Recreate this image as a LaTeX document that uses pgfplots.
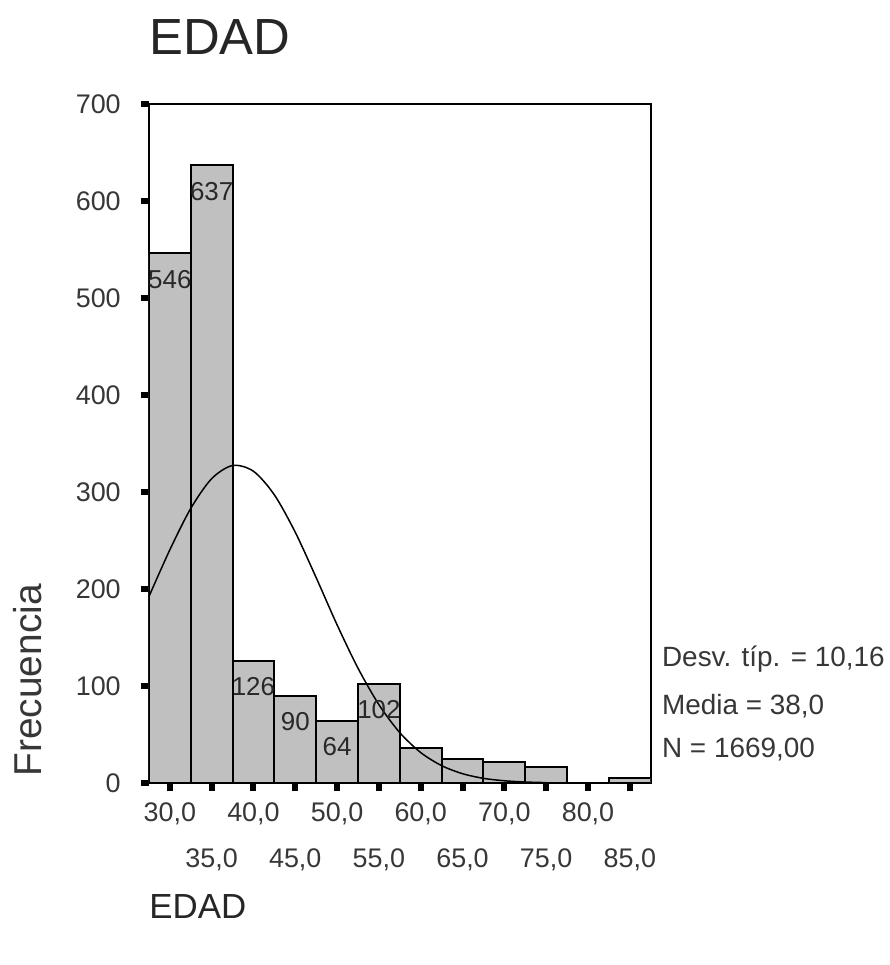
\documentclass[border=0pt]{standalone}
\usepackage{fontspec}
\setmainfont{Liberation Sans}
\usepackage{pgfplots}
\pgfplotsset{compat=1.18}
\definecolor{bargray}{RGB}{192,192,192}
\definecolor{txt}{RGB}{55,55,55}
\definecolor{lbl}{RGB}{40,40,40}
\begin{document}
\begin{tikzpicture}
\useasboundingbox (-148.9bp,-182bp) rectangle (741.1bp,783bp);
\begin{axis}[
  at={(0,0)}, anchor=south west,
  scale only axis, width=501.8bp, height=679bp,
  xmin=27.5, xmax=87.5, ymin=0, ymax=700,
  axis line style={line width=2bp},
  tick align=outside, xtick pos=lower, ytick pos=left,
  major tick length=8bp,
  every tick/.style={black, line width=6bp},
  xtick={30,40,...,80},
  xticklabels={{30,0},{40,0},{50,0},{60,0},{70,0},{80,0}},
  extra x ticks={35,45,...,85},
  extra x tick labels={{35,0},{45,0},{55,0},{65,0},{75,0},{85,0}},
  extra x tick style={xticklabel style={yshift=-46bp}},
  ytick={0,100,...,700},
  xticklabel style={font=\fontsize{27}{30}\selectfont, text=txt, anchor=north, inner sep=0pt, yshift=-12bp},
  yticklabel style={font=\fontsize{27}{30}\selectfont, text=txt, anchor=east, inner sep=0pt, xshift=-20bp},
  /pgf/number format/assume math mode=true,
]
\addplot[ybar, bar width=5, bar shift=0pt, fill=bargray, draw=black, line width=2bp,
  point meta=explicit symbolic, nodes near coords,
  every node near coord/.append style={anchor=center, yshift=-26bp, font=\fontsize{26}{28}\selectfont, text=lbl}]
  coordinates {(30,546)[546] (35,637)[637] (40,126)[126] (45,90)[90] (50,64)[64] (55,102)[102]
               (60,36)[] (65,25)[] (70,22)[] (75,16)[] (80,0)[] (85,5)[]};
\addplot[smooth, line width=1.5bp, black] coordinates {
  (27.5,192.1)(30,240.3)(32.5,283.0)(35,313.7)(37.5,327.3)(40,321.4)(42.5,297.1)(45,258.5)
  (47.5,211.7)(50,163.1)(52.5,118.4)(55,80.8)(57.5,51.9)(60,31.4)(62.5,17.9)(65,9.6)
  (67.5,4.8)(70,2.3)(72.5,1.0)(75,0.4)};
\end{axis}
\node[anchor=base west, font=\fontsize{51}{55}\selectfont, text=black!85] at (-3bp,728bp) {EDAD};
\node[rotate=90, anchor=base west, font=\fontsize{39}{42}\selectfont, text=txt] at (-107bp,3bp) {Frecuencia};
\node[anchor=base west, font=\fontsize{35}{38}\selectfont, text=black!85] at (-3bp,-135bp) {EDAD};
\begin{scope}[every node/.style={anchor=base west, font=\fontsize{28}{30}\selectfont, text=txt, inner sep=0pt}]
\node at (513bp,116bp) {Desv. típ. = 10,16};
\node at (513bp,68bp) {Media = 38,0};
\node at (513bp,26bp) {N = 1669,00};
\end{scope}
\end{tikzpicture}
\end{document}
